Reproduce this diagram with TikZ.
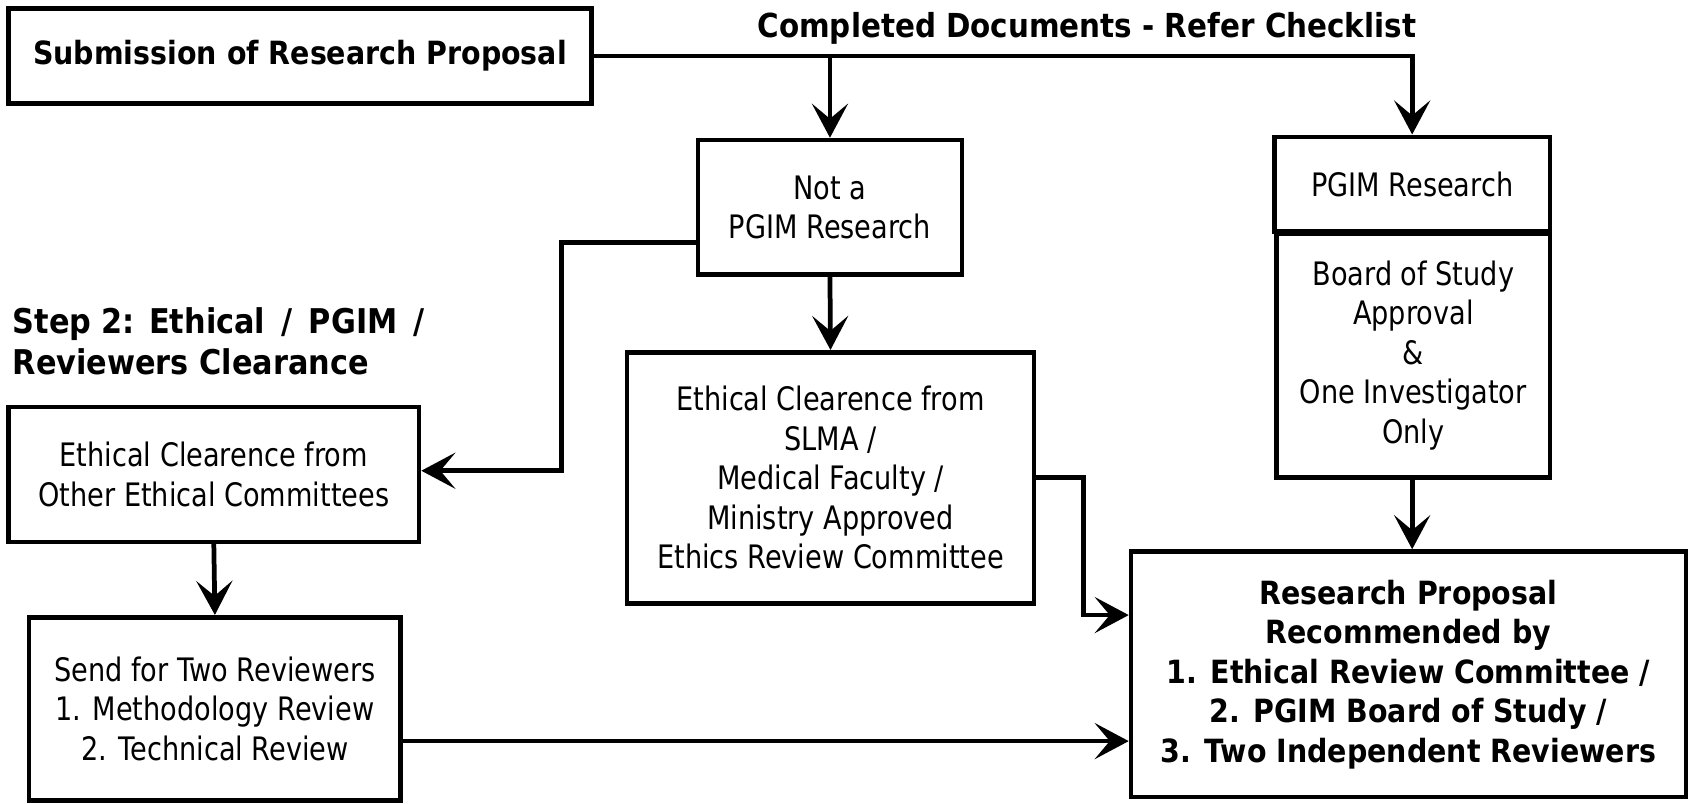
\documentclass[tikz,border=0pt]{standalone}
\usepackage{fontspec}
\setmainfont{DejaVu Sans}[UprightFeatures={FakeStretch=0.84}, BoldFeatures={FakeStretch=0.89}]
\usepackage{tikz}
\usetikzlibrary{arrows.meta}
\tikzset{
  box/.style 2 args={draw, line width=2.6pt, align=center, inner sep=0pt,
    minimum width=#1*0.02154cm, minimum height=#2*0.02154cm},
  flow/.style={line width=2.7pt, -{Stealth[length=0.68cm, width=0.72cm, inset=0.3cm]}},
  lbl/.style={font=\fontsize{18.2}{22.5}\selectfont\bfseries}
}

\begin{document}
\begin{tikzpicture}[x=0.02154cm, y=-0.02154cm, font=\fontsize{18.4}{22.5}\selectfont]
	\useasboundingbox (0,0) rectangle (1568,746);
	\node[box={541}{88}, lbl] (sub) at (278.5,52) {Submission of Research Proposal};
	\node[box={245}{125}] (notp) at (770.5,192.5) {Not a\\PGIM Research};
	\node[box={256}{88}] (pgim) at (1311,171) {PGIM Research};
	\node[box={254}{227}] (board) at (1312,330) {Board of Study\\Approval\\\&\\One Investigator\\Only};
	\node[box={378}{233}] (slma) at (771,443.5) {Ethical Clearence from\\SLMA /\\Medical Faculty /\\Ministry Approved\\Ethics Review Committee};
	\node[box={381}{125}] (other) at (198.5,440.5) {Ethical Clearence from\\Other Ethical Committees};
	\node[box={345}{170}] (send) at (199.5,658) {Send for Two Reviewers\\1. Methodology Review\\2. Technical Review};
	\node[box={515}{228}, lbl] (rec) at (1307.5,626) {Research Proposal\\Recommended by\\1. Ethical Review Committee /\\2. PGIM Board of Study /\\3. Two Independent Reviewers};
	%
	\node[lbl, font=\fontsize{18.8}{23}\selectfont\bfseries] (chk) at (1009,26) {Completed Documents - Refer Checklist};
	\node[lbl, font=\fontsize{19.4}{23.5}\selectfont\bfseries, anchor=west, align=left] (step) at (6,317) {Step 2: Ethical \,/\, PGIM \,/\\Reviewers Clearance};
	%
	\draw[flow] (sub.east) -- (pgim.north |- sub.east) -- (pgim.north);
	\draw[flow] (notp.north |- sub.east) -- (notp.north);
	\draw[flow] (notp.south) -- (slma.north);
	\draw[flow] (notp.west |- 0,225) -- (521,225) -- (521,437) -- (other.east |- 0,437);
	\draw[flow] (slma.east |- 0,443) -- (1006,443) -- (1006,571) -- (rec.west |- 0,571);
	\draw[flow] (board.south -| pgim.north) -- (rec.north -| pgim.north);
	\draw[flow] (other.south) -- (send.north);
	\draw[flow] (send.east |- 0,688) -- (rec.west |- 0,688);
\end{tikzpicture}
\end{document}
